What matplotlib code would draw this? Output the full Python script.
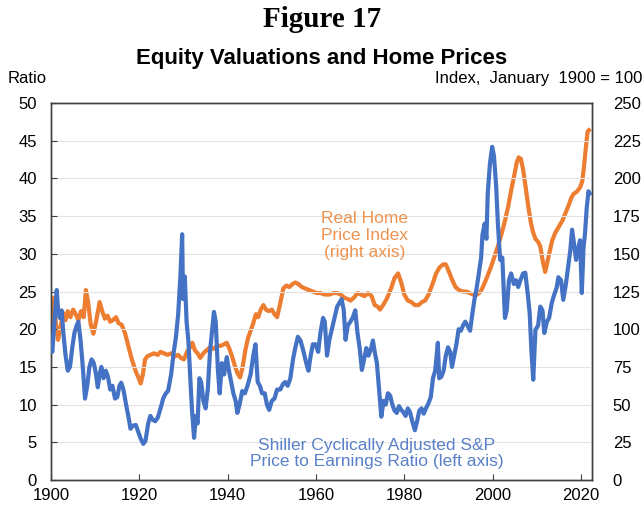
import matplotlib.pyplot as plt

# Shiller CAPE (left axis)
cape_years = [
    1900.0, 1900.3, 1900.6, 1901.0, 1901.3, 1901.6, 1902.0, 1902.4, 1902.8, 1903.3,
    1903.8, 1904.3, 1904.8, 1905.3, 1905.8, 1906.2, 1906.7, 1907.2, 1907.7, 1908.2,
    1908.7, 1909.2, 1909.7, 1910.2, 1910.6, 1911.0, 1911.4, 1911.9, 1912.4, 1912.9,
    1913.4, 1913.9, 1914.5, 1915.0, 1915.5, 1915.9, 1916.4, 1917.0, 1917.5, 1918.0,
    1918.5, 1919.2, 1919.7, 1920.3, 1920.9, 1921.4, 1922.0, 1922.5, 1923.0, 1923.6,
    1924.2, 1924.8, 1925.4, 1926.0, 1926.5, 1927.2, 1927.8, 1928.3, 1928.8, 1929.3,
    1929.7, 1929.9, 1930.3, 1930.7, 1931.1, 1931.5, 1931.9, 1932.4, 1932.8, 1933.2,
    1933.6, 1934.0, 1934.5, 1935.0, 1935.5, 1936.0, 1936.5, 1936.9, 1937.3, 1937.8,
    1938.2, 1938.7, 1939.2, 1939.8, 1940.3, 1940.8, 1941.3, 1941.8, 1942.2, 1942.7,
    1943.3, 1943.9, 1944.5, 1945.2, 1945.8, 1946.3, 1946.8, 1947.3, 1947.8, 1948.4,
    1948.9, 1949.4, 1950.0, 1950.6, 1951.2, 1951.9, 1952.5, 1953.0, 1953.6, 1954.2,
    1954.8, 1955.3, 1955.9, 1956.5, 1957.2, 1957.8, 1958.3, 1958.8, 1959.3, 1959.9,
    1960.5, 1961.0, 1961.6, 1962.0, 1962.5, 1963.0, 1963.6, 1964.2, 1964.8, 1965.3,
    1965.8, 1966.3, 1966.7, 1967.2, 1967.8, 1968.3, 1968.9, 1969.4, 1969.9, 1970.4,
    1970.9, 1971.4, 1971.9, 1972.4, 1972.9, 1973.3, 1973.8, 1974.3, 1974.8, 1975.3,
    1975.8, 1976.3, 1976.8, 1977.3, 1977.8, 1978.3, 1978.8, 1979.3, 1979.8, 1980.3,
    1980.8, 1981.3, 1981.8, 1982.4, 1982.9, 1983.4, 1983.9, 1984.4, 1984.9, 1985.5,
    1986.0, 1986.5, 1987.0, 1987.6, 1987.9, 1988.4, 1988.9, 1989.4, 1989.9, 1990.4,
    1990.8, 1991.3, 1991.8, 1992.3, 1992.8, 1993.3, 1993.8, 1994.3, 1994.9, 1995.4,
    1995.9, 1996.4, 1996.9, 1997.4, 1997.7, 1998.2, 1998.6, 1998.9, 1999.4, 1999.9,
    2000.3, 2000.8, 2001.2, 2001.7, 2002.2, 2002.8, 2003.2, 2003.7, 2004.2, 2004.8,
    2005.3, 2005.8, 2006.3, 2006.9, 2007.4, 2007.9, 2008.4, 2008.8, 2009.2, 2009.7,
    2010.3, 2010.8, 2011.3, 2011.7, 2012.3, 2012.8, 2013.4, 2013.9, 2014.5, 2014.9,
    2015.5, 2016.0, 2016.6, 2017.1, 2017.6, 2018.0, 2018.4, 2018.9, 2019.3, 2019.8,
    2020.2, 2020.6, 2020.9, 2021.3, 2021.7, 2022.0,
]
cape_vals = [
    18.0, 17.0, 19.5, 23.0, 25.2, 22.5, 21.5, 22.5, 19.5, 16.5,
    14.5, 15.0, 17.5, 19.5, 20.5, 21.0, 18.5, 15.0, 10.8, 12.5,
    15.0, 16.0, 15.5, 14.0, 12.3, 14.0, 15.0, 13.5, 14.5, 13.7,
    12.0, 12.5, 10.8, 11.0, 12.5, 12.9, 12.0, 10.0, 8.5, 6.8,
    7.2, 7.3, 6.5, 5.5, 4.8, 5.2, 7.5, 8.5, 8.0, 7.8,
    8.3, 9.5, 10.8, 11.5, 11.8, 14.0, 17.0, 19.0, 22.0, 27.0,
    32.6, 24.0, 27.0, 21.0, 18.5, 14.0, 9.5, 5.6, 8.5, 7.5,
    13.5, 13.0, 10.5, 9.5, 12.0, 17.0, 20.0, 22.3, 21.0, 14.5,
    11.5, 15.5, 14.0, 16.3, 14.5, 13.0, 11.5, 10.5, 8.9, 10.0,
    11.8, 11.5, 12.5, 14.0, 16.5, 18.0, 13.0, 12.5, 11.5, 11.5,
    10.0, 9.3, 10.5, 10.8, 12.0, 12.0, 12.7, 13.0, 12.5, 13.5,
    16.0, 17.5, 19.0, 18.5, 17.0, 15.5, 14.5, 16.5, 18.0, 18.0,
    17.0, 19.5, 21.5, 21.0, 16.5, 18.5, 20.0, 21.5, 23.0, 23.5,
    24.0, 22.5, 18.6, 20.5, 21.0, 21.5, 22.5, 19.5, 17.5, 14.6,
    16.0, 17.5, 16.5, 17.3, 18.5, 17.0, 15.5, 12.0, 8.4, 10.5,
    10.0, 11.5, 11.2, 10.0, 9.2, 8.9, 9.8, 9.3, 9.0, 8.5,
    9.5, 9.0, 7.8, 6.6, 7.8, 9.2, 9.5, 8.8, 9.5, 10.2,
    11.0, 13.5, 14.5, 18.2, 13.5, 13.7, 14.5, 16.5, 17.6, 17.0,
    15.0, 16.5, 18.0, 20.0, 19.8, 20.5, 21.0, 20.5, 19.8, 22.0,
    24.0, 25.5, 27.5, 29.5, 32.5, 34.0, 32.0, 38.0, 42.0, 44.2,
    43.0, 39.0, 34.0, 29.2, 29.5, 21.5, 22.5, 26.5, 27.4, 26.0,
    26.5, 25.6, 26.5, 27.4, 27.5, 25.0, 22.1, 17.0, 13.3, 19.9,
    20.5, 23.0, 22.5, 19.5, 21.0, 21.5, 23.5, 24.5, 25.5, 26.9,
    26.5, 23.9, 26.0, 28.3, 30.5, 33.2, 31.5, 29.2, 30.5, 31.8,
    24.8, 31.0, 32.5, 36.0, 38.3, 38.0,
]

# Real home price index, Jan 1900 = 100 (right axis)
hpi_years = [
    1900.0, 1900.4, 1900.7, 1901.1, 1901.6, 1902.1, 1902.7, 1903.3, 1903.8, 1904.4,
    1905.0, 1905.6, 1906.2, 1906.8, 1907.4, 1907.9, 1908.4, 1909.0, 1909.6, 1910.2,
    1911.0, 1911.6, 1912.2, 1912.8, 1913.4, 1914.0, 1914.7, 1915.3, 1916.0, 1916.8,
    1917.5, 1918.3, 1919.2, 1919.8, 1920.3, 1920.8, 1921.3, 1921.8, 1922.5, 1923.3,
    1924.2, 1924.8, 1925.6, 1926.4, 1927.2, 1928.0, 1928.8, 1929.4, 1930.1, 1930.8,
    1931.5, 1932.0, 1932.6, 1933.2, 1933.8, 1934.5, 1935.2, 1936.0, 1936.8, 1937.6,
    1938.4, 1939.2, 1939.8, 1940.4, 1941.0, 1941.6, 1942.2, 1942.8, 1943.4, 1944.0,
    1944.6, 1945.2, 1945.8, 1946.4, 1946.9, 1947.5, 1948.1, 1948.7, 1949.3, 1950.0,
    1950.6, 1951.2, 1951.9, 1952.6, 1953.3, 1954.0, 1954.7, 1955.3, 1956.0, 1956.8,
    1957.6, 1958.4, 1959.3, 1960.2, 1961.0, 1962.0, 1963.0, 1964.0, 1964.8, 1965.6,
    1966.4, 1967.2, 1967.8, 1968.6, 1969.4, 1970.2, 1971.0, 1971.8, 1972.6, 1973.3,
    1974.0, 1974.5, 1975.2, 1976.0, 1977.0, 1977.8, 1978.6, 1979.3, 1980.0, 1980.8,
    1981.6, 1982.4, 1983.2, 1984.0, 1984.7, 1985.5, 1986.4, 1987.2, 1988.0, 1988.8,
    1989.4, 1990.0, 1990.8, 1991.6, 1992.4, 1993.2, 1994.0, 1994.8, 1995.6, 1996.5,
    1997.3, 1998.1, 1998.8, 1999.6, 2000.4, 2001.2, 2002.0, 2002.8, 2003.5, 2004.2,
    2004.9, 2005.5, 2005.9, 2006.4, 2006.9, 2007.5, 2008.1, 2008.7, 2009.2, 2009.7,
    2010.3, 2010.8, 2011.3, 2011.9, 2012.5, 2013.0, 2013.5, 2014.2, 2015.0, 2015.8,
    2016.5, 2017.2, 2017.8, 2018.4, 2019.0, 2019.8, 2020.3, 2020.7, 2021.1, 2021.5,
    2021.8,
]
hpi_vals = [
    100, 110, 121, 104, 93, 100, 111, 106, 112, 108,
    113, 110, 106, 112, 108, 126, 118, 103, 97, 105,
    118, 112, 107, 109, 105, 106, 108, 104, 103, 97,
    89, 80, 72, 68, 64, 70, 80, 82, 83, 84,
    83, 85, 84, 83, 84, 82, 83, 81, 80, 85,
    88, 91, 86, 84, 81, 84, 86, 88, 87, 89,
    89, 90, 91, 87, 82, 76, 71, 68, 75, 86,
    94, 99, 104, 110, 108, 113, 116, 113, 112, 113,
    110, 108, 117, 127, 129, 128, 130, 131, 130, 128,
    127, 126, 125, 124, 124, 123, 123, 124, 124, 123,
    121, 120, 119, 121, 124, 123, 122, 124, 122, 116,
    115, 113, 116, 120, 127, 134, 137, 131, 123, 119,
    118, 116, 116, 118, 119, 123, 130, 137, 141, 143,
    143, 139, 133, 128, 126, 125, 125, 124, 123, 123,
    125, 130, 135, 141, 148, 155, 163, 172, 181, 192,
    202, 211, 214, 213, 206, 194, 181, 170, 164, 160,
    158, 155, 146, 138, 146, 153, 159, 164, 168, 172,
    177, 182, 187, 190, 191, 194, 198, 208, 220, 231,
    232,
]

left_ticks = list(range(0, 55, 5))
right_ticks = list(range(0, 275, 25))
year_ticks = list(range(1900, 2040, 20))

BLUE = '#4472C4'
ORANGE = '#ED7D31'

plt.rcParams['font.family'] = ['Liberation Sans', 'DejaVu Sans']

fig = plt.figure(figsize=(6.44, 5.08), dpi=100)
ax = fig.add_axes([0.0792, 0.0551, 0.840, 0.742])
ax2 = ax.twinx()

ax.plot(cape_years, cape_vals, color=BLUE, lw=3.0, zorder=3)
ax2.plot(hpi_years, hpi_vals, color=ORANGE, lw=3.0, zorder=2)
ax.set_zorder(ax2.get_zorder() + 1)
ax.patch.set_visible(False)

ax.set_xlim(1900, 2022.5)
ax.set_ylim(0, 50)
ax2.set_ylim(0, 250)
ax.set_xticks(year_ticks)
ax.set_yticks(left_ticks)
ax2.set_yticks(right_ticks)
ax.grid(axis='y', color='#E3E3E3', lw=0.8)
ax.set_axisbelow(True)

ax.tick_params(axis='both', direction='in', length=4, labelsize=12, color='#404040', pad=6)
ax.tick_params(axis='y', pad=10)
ax2.tick_params(axis='y', length=0, labelsize=12, pad=15)
for a in (ax, ax2):
    for s in a.spines.values():
        s.set_color('#404040')
        s.set_linewidth(1.0)

ax.text(1971.1, 32.4, 'Real Home\nPrice Index\n(right axis)', color='#EE9350',
        fontsize=12.5, ha='center', va='center', linespacing=1.15)
ax.text(1973.8, 3.5, 'Shiller Cyclically Adjusted S&P\nPrice to Earnings Ratio (left axis)',
        color='#5A80C8', fontsize=12.5, ha='center', va='center', linespacing=1.1)

fig.text(0.5, 0.962, 'Figure 17', family='Liberation Serif', weight='bold',
         fontsize=21, ha='center', va='center')
fig.text(0.5, 0.885, 'Equity Valuations and Home Prices', weight='bold',
         fontsize=16, ha='center', va='center')
fig.text(0.042, 0.846, 'Ratio', fontsize=12, ha='center', va='center')
fig.text(0.998, 0.846, 'Index,  January  1900 = 100', fontsize=12, ha='right', va='center')

fig.savefig('out.png', dpi=100)
